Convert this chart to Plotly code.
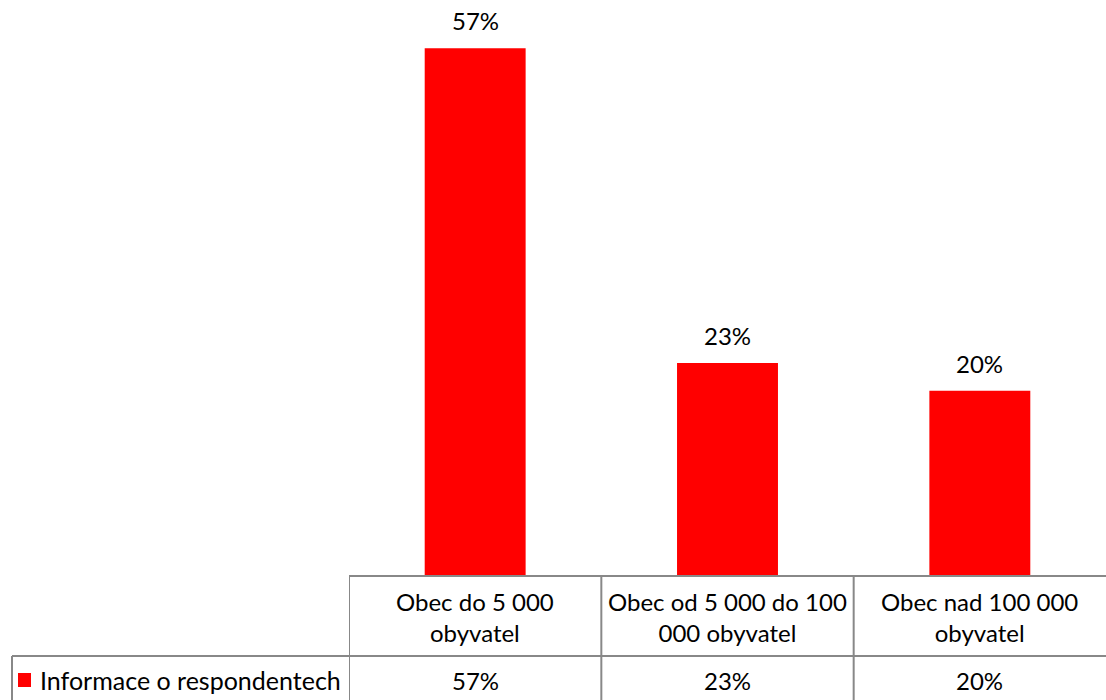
import plotly.graph_objects as go

categories = ["Obec do 5 000<br>obyvatel", "Obec od 5 000 do 100<br>000 obyvatel", "Obec nad 100 000<br>obyvatel"]
values = [57, 23, 20]
series_name = "Informace o respondentech"

W, H = 1106, 700
left_px, base_px, row_px = 349, 576, 656
grid = "#888888"
font = dict(family="Lato, Calibri, sans-serif", size=24, color="black")


def px_x(p):
    return p / W


def px_y(p):
    return (H - p) / H


fig = go.Figure()
fig.add_trace(go.Bar(
    x=list(range(len(values))),
    y=values,
    width=0.4,
    marker=dict(color="#ff0000", line=dict(width=0)),
    name=series_name,
    hoverinfo="skip",
))

# labels above bars
for i, v in enumerate(values):
    fig.add_annotation(x=i, y=v, xref="x", yref="y", text=f"{v}%",
                       showarrow=False, xanchor="center", yanchor="bottom",
                       yshift=11, font=font)

# table cells
for i, (cat, v) in enumerate(zip(categories, values)):
    fig.add_annotation(x=i, y=px_y(617), xref="x", yref="paper", text=cat,
                       showarrow=False, font=font, align="center",
                       xanchor="center", yanchor="middle")
    fig.add_annotation(x=i, y=px_y(680), xref="x", yref="paper", text=f"{v}%",
                       showarrow=False, font=font, xanchor="center", yanchor="middle")

# legend key in table
fig.add_shape(type="rect", xref="paper", yref="paper",
              x0=px_x(18), x1=px_x(31), y0=px_y(687), y1=px_y(673),
              fillcolor="#ff0000", line=dict(width=0))
fig.add_annotation(x=px_x(38), y=px_y(680), xref="paper", yref="paper",
                   text=series_name, showarrow=False, xanchor="left",
                   yanchor="middle", font=dict(font, size=25))

# table grid lines
line = dict(color=grid, width=2)
fig.add_shape(type="line", xref="paper", yref="paper",
              x0=px_x(left_px), x1=1, y0=px_y(base_px), y1=px_y(base_px), line=line)
fig.add_shape(type="line", xref="paper", yref="paper",
              x0=px_x(12), x1=1, y0=px_y(row_px), y1=px_y(row_px), line=line)
fig.add_shape(type="line", xref="paper", yref="paper",
              x0=px_x(12), x1=px_x(12), y0=px_y(row_px), y1=0, line=line)
for k in range(len(values)):
    fig.add_shape(type="line", xref="x", yref="paper",
                  x0=k - 0.5, x1=k - 0.5, y0=px_y(base_px), y1=0, line=line)

fig.update_layout(
    width=W, height=H,
    margin=dict(l=0, r=0, t=0, b=0),
    paper_bgcolor="white",
    plot_bgcolor="white",
    showlegend=False,
    font=font,
    xaxis=dict(domain=[px_x(left_px), 1], range=[-0.5, len(values) - 0.5],
               showticklabels=False, showgrid=False, zeroline=False, showline=False),
    yaxis=dict(domain=[px_y(base_px), 1], range=[0, 62.2],
               showticklabels=False, showgrid=False, zeroline=False, showline=False),
)

fig.write_html("out.html", config={"displayModeBar": False},
               post_script="document.body.style.margin='0';")
